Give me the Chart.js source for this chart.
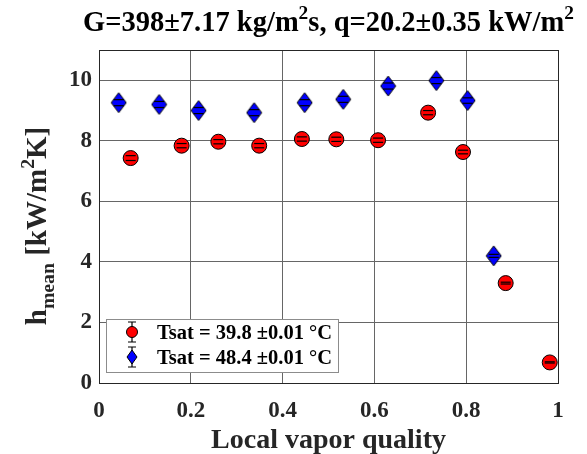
<!DOCTYPE html>
<html>
<head>
<meta charset="utf-8">
<script src="https://cdn.jsdelivr.net/npm/chart.js@4"></script>
<style>
    html, body { margin: 0; padding: 0; background: #fff; }
    #chart { display: block; }
</style>
</head>
<body>
<canvas id="chart" width="587" height="454"></canvas>
<script>
// Data
const qualityLow = [0.069, 0.180, 0.260, 0.349, 0.442, 0.517, 0.608, 0.717, 0.793, 0.886, 0.982];
const hLow = [7.43, 7.84, 7.97, 7.84, 8.06, 8.05, 8.02, 8.93, 7.63, 3.30, 0.68];
const errLow = [0.08, 0.07, 0.07, 0.07, 0.07, 0.07, 0.07, 0.07, 0.06, 0.03, 0.02];

const qualityHigh = [0.043, 0.131, 0.217, 0.338, 0.448, 0.532, 0.630, 0.735, 0.803, 0.860];
const hHigh = [9.26, 9.20, 9.00, 8.93, 9.26, 9.37, 9.81, 9.99, 9.33, 4.20];
const errHigh = [0.10, 0.10, 0.10, 0.10, 0.10, 0.10, 0.10, 0.10, 0.09, 0.05];

const labelLow = 'Tsat = 39.8 \u00b10.01 \u00b0C';
const labelHigh = 'Tsat = 48.4 \u00b10.01 \u00b0C';

const xTicks = [0, 0.2, 0.4, 0.6, 0.8, 1];
const yTicks = [0, 2, 4, 6, 8, 10];

const FONT = '"Liberation Serif", "Times New Roman", serif';
const RED = '#ff0000';
const BLUE = '#0000ff';

// Diamond marker, taller than wide like MATLAB's
function makeDiamond(w, h) {
    const c = document.createElement('canvas');
    c.width = w + 2;
    c.height = h + 2;
    const g = c.getContext('2d');
    const cx = c.width / 2, cy = c.height / 2;
    g.beginPath();
    g.moveTo(cx, cy - h / 2);
    g.lineTo(cx + w / 2, cy);
    g.lineTo(cx, cy + h / 2);
    g.lineTo(cx - w / 2, cy);
    g.closePath();
    g.fillStyle = BLUE;
    g.fill();
    g.strokeStyle = '#000';
    g.lineWidth = 1;
    g.stroke();
    return c;
}
const diamond = makeDiamond(15, 20);

function toPoints(xs, ys) {
    return xs.map((x, i) => ({ x: x, y: ys[i] }));
}

// Draw text made of runs: normal, superscript ('sup') and subscript ('sub')
function runWidth(g, runs, size) {
    let w = 0;
    runs.forEach(r => {
        const s = r.mode ? size * 0.68 : size;
        g.font = 'bold ' + s + 'px ' + FONT;
        w += g.measureText(r.text).width;
    });
    return w;
}
function drawRuns(g, runs, x, y, size) {
    let cx = x;
    runs.forEach(r => {
        const s = r.mode ? size * 0.68 : size;
        g.font = 'bold ' + s + 'px ' + FONT;
        let dy = 0;
        if (r.mode === 'sup') dy = -size * 0.42;
        if (r.mode === 'sub') dy = size * 0.28;
        g.fillText(r.text, cx, y + dy);
        cx += g.measureText(r.text).width;
    });
}

const titleRuns = [
    { text: 'G=398\u00b17.17 kg/m' }, { text: '2', mode: 'sup' },
    { text: 's, q=20.2\u00b10.35 kW/m' }, { text: '2', mode: 'sup' }
];
const yTitleRuns = [
    { text: 'h' }, { text: 'mean', mode: 'sub' },
    { text: ' [kW/m' }, { text: '2', mode: 'sup' }, { text: 'K]' }
];

const errorBars = {
    id: 'errorBars',
    afterDatasetsDraw(chart) {
        const g = chart.ctx;
        const xs = chart.scales.x, ys = chart.scales.y;
        g.save();
        g.strokeStyle = '#000';
        g.lineWidth = 1.2;
        chart.data.datasets.forEach(ds => {
            ds.data.forEach((p, i) => {
                const px = xs.getPixelForValue(p.x);
                const e = ds.errors[i];
                [p.y - e, p.y + e].forEach(v => {
                    const py = ys.getPixelForValue(v);
                    g.beginPath();
                    g.moveTo(px - 5, py);
                    g.lineTo(px + 5, py);
                    g.stroke();
                });
            });
        });
        g.restore();
    }
};

const decorations = {
    id: 'decorations',
    afterDraw(chart) {
        const g = chart.ctx;
        const a = chart.chartArea;
        g.save();

        // axes box
        g.strokeStyle = '#262626';
        g.lineWidth = 1;
        g.strokeRect(Math.round(a.left) + 0.5, Math.round(a.top) + 0.5,
            Math.round(a.right - a.left), Math.round(a.bottom - a.top));

        g.fillStyle = '#000';
        g.textBaseline = 'alphabetic';

        // title
        const tw = runWidth(g, titleRuns, 28.5);
        drawRuns(g, titleRuns, (a.left + a.right) / 2 - tw / 2, 31, 28.5);

        // x axis title
        g.font = 'bold 28px ' + FONT;
        g.fillStyle = '#262626';
        g.textAlign = 'center';
        g.fillText('Local vapor quality', (a.left + a.right) / 2, 448);

        // y axis title
        g.textAlign = 'left';
        g.save();
        g.translate(46, 226);
        g.rotate(-Math.PI / 2);
        const yw = runWidth(g, yTitleRuns, 29);
        drawRuns(g, yTitleRuns, -yw / 2, 0, 29);
        g.restore();

        // legend
        const lx = 106, ly = 319, lw = 232, lh = 53;
        g.fillStyle = '#fff';
        g.fillRect(lx, ly, lw, lh);
        g.strokeStyle = '#8c8c8c';
        g.strokeRect(lx + 0.5, ly + 0.5, lw, lh);
        chart.data.datasets.forEach((ds, k) => {
            const cy = 332 + k * 25;
            const mx = 132;
            g.strokeStyle = '#000';
            g.lineWidth = 1.2;
            g.beginPath();
            g.moveTo(mx, cy - 10); g.lineTo(mx, cy + 10);
            g.moveTo(mx - 4, cy - 10); g.lineTo(mx + 4, cy - 10);
            g.moveTo(mx - 4, cy + 10); g.lineTo(mx + 4, cy + 10);
            g.stroke();
            g.lineWidth = 1;
            g.beginPath();
            if (k === 0) {
                g.arc(mx, cy, 5.5, 0, Math.PI * 2);
            } else {
                g.moveTo(mx, cy - 7); g.lineTo(mx + 5, cy);
                g.lineTo(mx, cy + 7); g.lineTo(mx - 5, cy);
                g.closePath();
            }
            g.fillStyle = ds.backgroundColor;
            g.fill();
            g.stroke();
            g.fillStyle = '#000';
            g.font = 'bold 20.5px ' + FONT;
            g.fillText(ds.label, 157, cy + 7);
        });
        g.restore();
    }
};

new Chart(document.getElementById('chart'), {
    type: 'scatter',
    data: {
        datasets: [
            {
                label: labelLow,
                data: toPoints(qualityLow, hLow),
                errors: errLow,
                pointStyle: 'circle',
                pointRadius: 7.5,
                backgroundColor: RED,
                borderColor: '#000',
                borderWidth: 1
            },
            {
                label: labelHigh,
                data: toPoints(qualityHigh, hHigh),
                errors: errHigh,
                pointStyle: diamond,
                backgroundColor: BLUE,
                borderColor: '#000',
                borderWidth: 1
            }
        ]
    },
    options: {
        responsive: false,
        animation: false,
        layout: { padding: { top: 50, right: 29, left: 0, bottom: 0 } },
        plugins: {
            legend: { display: false },
            title: { display: false },
            tooltip: { enabled: false }
        },
        scales: {
            x: {
                type: 'linear',
                min: 0,
                max: 1,
                afterBuildTicks(scale) { scale.ticks = xTicks.map(v => ({ value: v })); },
                afterFit(scale) { scale.height = 71; },
                grid: { color: '#666666', lineWidth: 1, drawTicks: false },
                border: { display: false },
                ticks: {
                    padding: 14,
                    color: '#262626',
                    font: { family: FONT, size: 23, weight: 'bold' },
                    callback: v => String(v)
                }
            },
            y: {
                type: 'linear',
                min: 0,
                max: 11,
                afterBuildTicks(scale) { scale.ticks = yTicks.map(v => ({ value: v })); },
                afterFit(scale) { scale.width = 99; },
                grid: { color: '#666666', lineWidth: 1, drawTicks: false },
                border: { display: false },
                ticks: {
                    padding: 7,
                    color: '#262626',
                    font: { family: FONT, size: 23, weight: 'bold' },
                    callback: v => String(v)
                }
            }
        }
    },
    plugins: [errorBars, decorations]
});
</script>
</body>
</html>
